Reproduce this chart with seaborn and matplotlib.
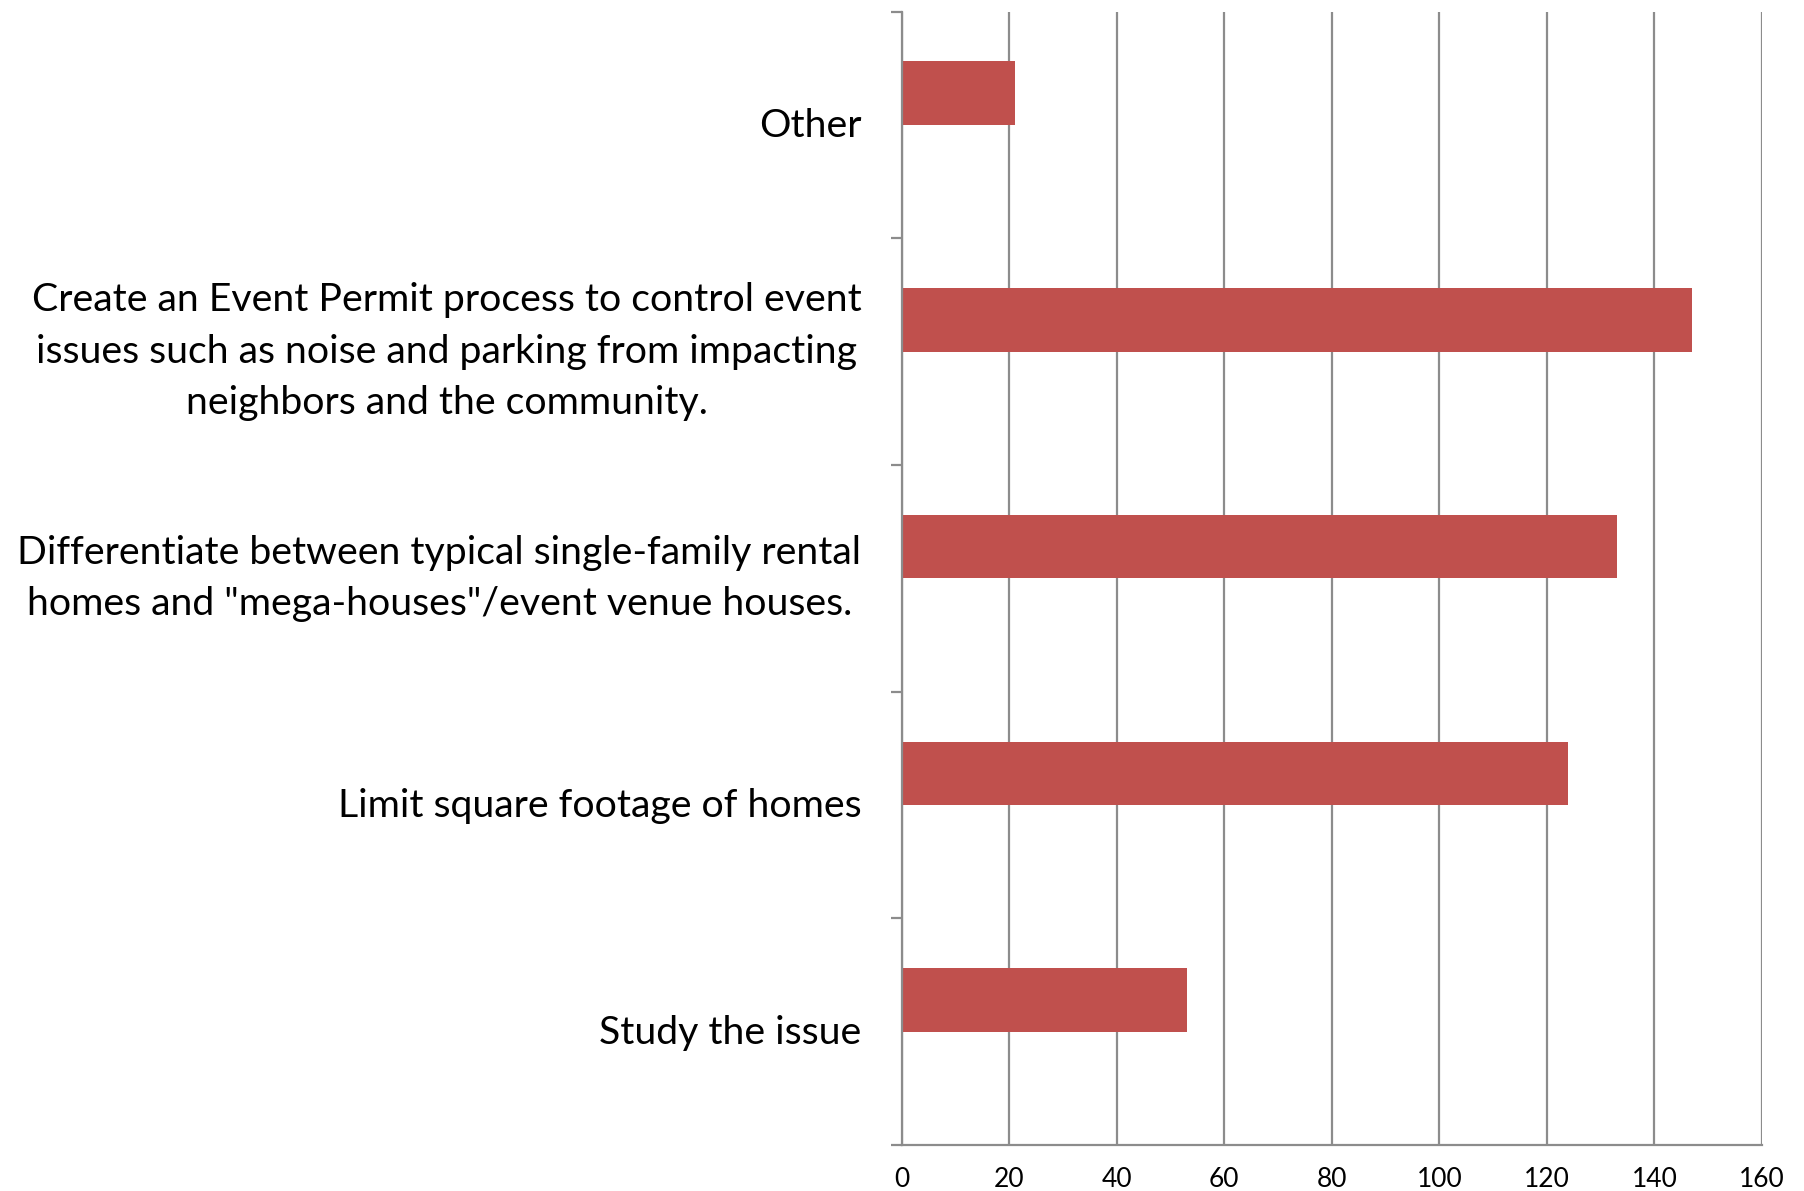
import pandas as pd
import matplotlib
matplotlib.use("Agg")
import matplotlib.pyplot as plt
import matplotlib.transforms as mtransforms
from matplotlib.ticker import FixedLocator
import seaborn as sns

# === data ===
categories = [
    "Other",
    "Create an Event Permit process to control event\n"
    "issues such as noise and parking from impacting\n"
    "neighbors and the community.",
    "Differentiate between typical single-family rental\n"
    "homes and \"mega-houses\"/event venue houses.",
    "Limit square footage of homes",
    "Study the issue",
]
responses = [21, 147, 133, 124, 53]
# Excel chart had a second (empty) series, which pushes bars up in each band
empty_series = [0, 0, 0, 0, 0]
x_ticks = [0, 20, 40, 60, 80, 100, 120, 140, 160]

df = pd.DataFrame({
    "Kategorie": categories * 2,
    "Wert": responses + empty_series,
    "Serie": ["Responses"] * len(categories) + ["Leer"] * len(categories),
})

sns.set_style("white")
plt.rcParams["font.family"] = ["Lato", "DejaVu Sans"]

fig = plt.figure(figsize=(18.04, 11.91), dpi=100)
ax = fig.add_axes([0.4998, 0.0386, 0.4769, 0.9517])

sns.barplot(data=df, y="Kategorie", x="Wert", hue="Serie", order=categories,
            hue_order=["Responses", "Leer"], palette=["#C0504D", "#C0504D"],
            saturation=1, width=0.56, linewidth=0, legend=False, ax=ax)

ax.set_xlim(0, 160)
ax.set_ylim(len(categories) - 0.5, -0.5)
ax.set_xticks(x_ticks)
ax.set_xticklabels([str(t) for t in x_ticks])
ax.grid(axis="x", color="#8c8c8c", linewidth=1.6)
ax.grid(axis="y", visible=False)
ax.set_axisbelow(True)

# tick marks between categories, like Excel
ax.yaxis.set_minor_locator(FixedLocator([i - 0.5 for i in range(len(categories) + 1)]))
ax.tick_params(axis="y", which="major", length=0, pad=29, labelsize=28.3, labelcolor="black")
ax.tick_params(axis="y", which="minor", length=8, width=1.6, color="#8c8c8c", left=True)
ax.tick_params(axis="x", length=6, width=1.6, color="#8c8c8c", labelsize=19, pad=10,
               labelcolor="black")

# Excel centres multi-line labels a bit higher than matplotlib does
for lbl in ax.get_yticklabels():
    lbl.set_multialignment("center")
    lbl.set_linespacing(1.52)
    dy = 8 if "\n" in lbl.get_text() else 1.5
    lbl.set_transform(lbl.get_transform() +
                      mtransforms.ScaledTranslation(0, dy / 72, fig.dpi_scale_trans))

for s in ["top", "right"]:
    ax.spines[s].set_visible(False)
for s in ["left", "bottom"]:
    ax.spines[s].set_color("#8c8c8c")
    ax.spines[s].set_linewidth(1.6)

ax.set_xlabel("")
ax.set_ylabel("")

fig.savefig("out.png", dpi=100)
